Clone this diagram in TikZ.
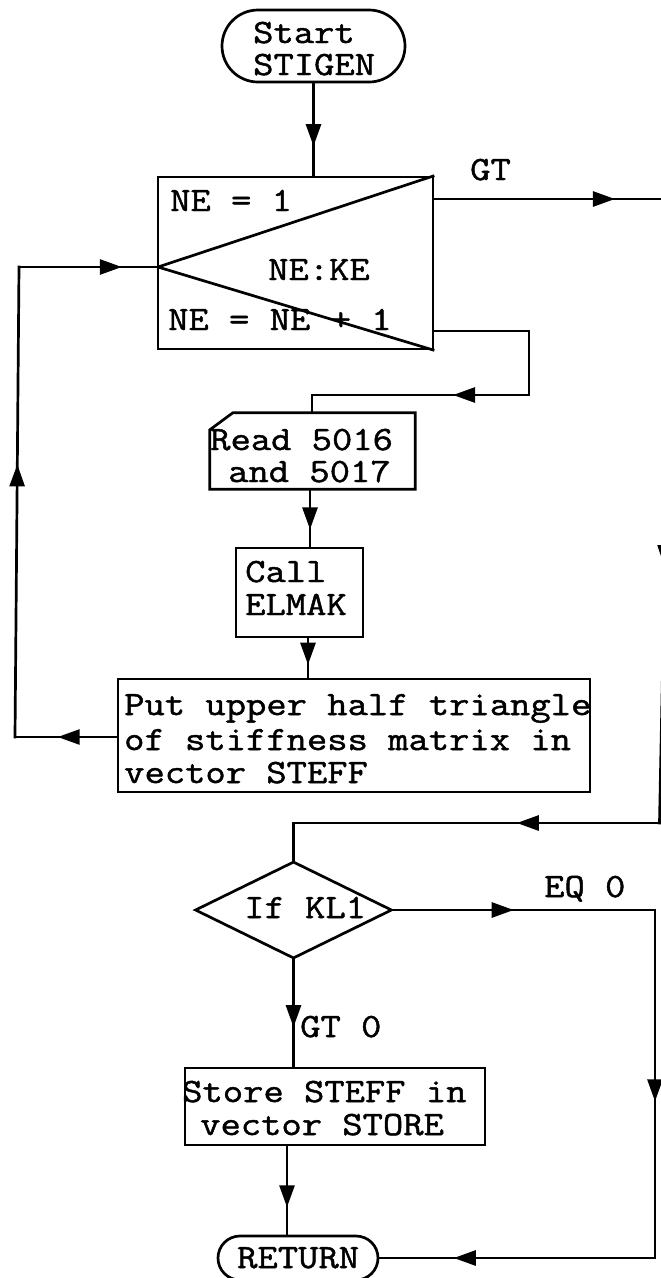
\documentclass[tikz,border=0pt]{standalone}
\usepackage{fontspec}
\setmonofont{Latin Modern Mono}[FakeStretch=1.16,FakeBold=1.4]
\usetikzlibrary{shapes.geometric,decorations.markings,arrows.meta}
\tikzset{
  ln/.style={line width=2.7pt, line cap=rect, line join=miter},
  shp/.style={draw, line width=2.7pt, inner sep=0pt},
  txt/.style={inner sep=0pt, anchor=base west, font=\ttfamily\fontsize{34}{34}\selectfont},
  ar/.style={postaction={decorate}, decoration={markings, mark=at position #1 with {\arrow{Triangle[length=22pt,width=15pt]}}}}
}
\begin{document}
\begin{tikzpicture}[x=1pt,y=-1pt]
\useasboundingbox (0,0) rectangle (661,1278);
% shapes
\node[shp, rounded corners=36pt, minimum width=183pt, minimum height=72pt] (start) at (313.5,46) {};
\node[shp, minimum width=275pt, minimum height=172pt] (loop) at (295.5,263) {};
\coordinate (lv) at (158,267);
\draw[line width=2.7pt] (loop.north east) -- (lv) -- (loop.south east);
\node[inner sep=0pt, minimum width=205pt, minimum height=76pt] (read) at (312.5,451) {};
\draw[line width=2.7pt] (read.south west) -- ([yshift=-17pt]read.north west) -- ([xshift=23pt]read.north west) -- (read.north east) -- (read.south east) -- cycle;
\node[shp, minimum width=127pt, minimum height=89pt] (call) at (299.5,592.5) {};
\node[shp, minimum width=472pt, minimum height=113pt] (put) at (354,735.5) {};
\node[shp, diamond, minimum width=197pt, minimum height=97pt] (dia) at (293.5,910) {};
\node[shp, minimum width=300pt, minimum height=77pt] (store) at (335,1106.5) {};
\node[shp, rounded corners=22pt, minimum width=160pt, minimum height=44pt] (ret) at (298,1258) {};
% texts
\node[txt] (t1) at (253,43) {Start};
\node[txt] (t2) at (253,75) {STIGEN};
\node[txt] (t3) at (170,211) {NE = 1};
\node[txt] (t4) at (268,280) {NE:KE};
\node[txt] (t5) at (168,330) {NE = NE + 1};
\node[txt] (t6) at (470,180) {GT};
\node[txt] (t7) at (210,450) {Read 5016};
\node[txt] (t8) at (228,482) {and 5017};
\node[txt] (t9) at (245,582) {Call};
\node[txt] (t10) at (245,615) {ELMAK};
\node[txt] (t11) at (124,715) {Put upper half triangle};
\node[txt] (t12) at (124,750) {of stiffness matrix in};
\node[txt] (t13) at (124,783) {vector STEFF};
\node[txt] (t14) at (244,918) {If KL1};
\node[txt] (t15) at (544,897) {EQ 0};
\node[txt] (t16) at (300,1037) {GT 0};
\node[txt] (t17) at (182,1102) {Store STEFF in};
\node[txt] (t18) at (200,1135) {vector STORE};
\node[txt] (t19) at (237,1268) {RETURN};
% coordinates
\coordinate (gt) at (672,199);
\coordinate (r1) at (659.5,823);
\coordinate (e1) at (529,331);
\coordinate (e2) at (529,395);
\coordinate (e3) at (312,395);
\coordinate (k1) at (310,0);
\coordinate (k2) at (308,0);
\coordinate (k3) at (287,0);
\coordinate (p1) at (15,737);
\coordinate (p2) at (19,267);
\coordinate (q1) at (655,910);
\coordinate (q2) at (655,1258);
% connectors
\draw[ln, ar=0.68] (start.south) -- (start.south |- loop.north);
\draw[ln, ar=0.76] (loop.east |- gt) -- (gt);
\draw[ln, ar=0.59] (gt) -- (r1);
\draw[ln, ar=0.39] (r1) -- (dia.north |- r1);
\draw[ln] (dia.north |- r1) -- (dia.north);
\draw[ln] (loop.east |- e1) -- (e1) -- (e2);
\draw[ln, ar=0.35] (e2) -- (e3);
\draw[ln] (e3) -- (e3 |- read.north);
\draw[ln, ar=0.7] (read.south -| k1) -- (call.north -| k1);
\draw[ln, ar=0.67] (call.south -| k2) -- (put.north -| k2);
\draw[ln, ar=0.58] (put.west |- p1) -- (p1);
\draw[ln, ar=0.58] (p1) -- (p2);
\draw[ln, ar=0.74] (p2) -- (lv);
\draw[ln, ar=0.46] (dia.east) -- (q1);
\draw[ln, ar=0.55] (q1) -- (q2);
\draw[ln, ar=0.73] (q2) -- (ret.east);
\draw[ln, ar=0.63] (dia.south) -- (dia.south |- store.north);
\draw[ln, ar=0.69] (store.south -| k3) -- (ret.north -| k3);
\end{tikzpicture}
\end{document}
